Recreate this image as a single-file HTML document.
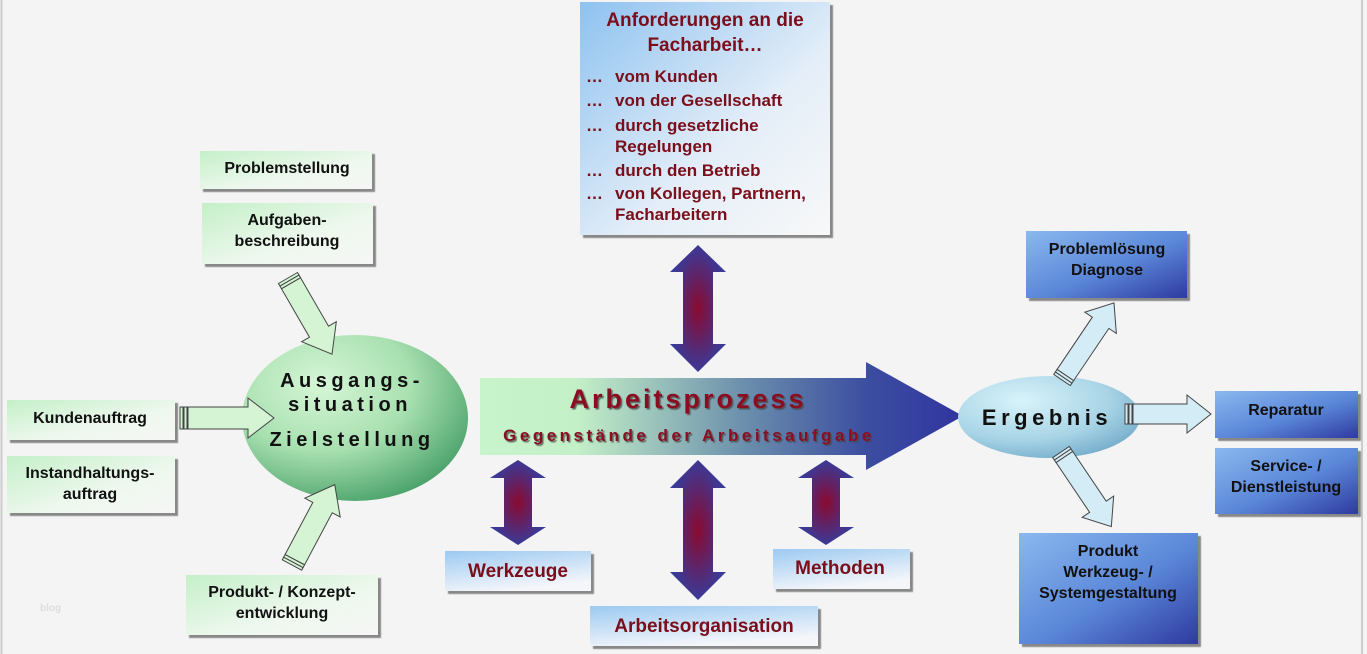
<!DOCTYPE html>
<html><head><meta charset="utf-8"><style>
html,body{margin:0;padding:0;background:#f4f4f4}
svg{display:block}
text{font-family:"Liberation Sans",sans-serif;font-weight:bold}
</style></head><body>
<svg width="1367" height="654" viewBox="0 0 1367 654" xmlns="http://www.w3.org/2000/svg">
<defs>
<linearGradient id="gbox" x1="0" y1="0" x2="1" y2="1"><stop offset="0" stop-color="#c4f0c8"/><stop offset="0.6" stop-color="#eef8ee"/><stop offset="1" stop-color="#f6f6f6"/></linearGradient>
<linearGradient id="bbox" x1="0" y1="0" x2="1" y2="1"><stop offset="0" stop-color="#8ec2f0"/><stop offset="0.6" stop-color="#e4eef8"/><stop offset="1" stop-color="#f8f8f8"/></linearGradient>
<linearGradient id="bsmall" x1="0" y1="0" x2="0.4" y2="1"><stop offset="0" stop-color="#9ccaf2"/><stop offset="1" stop-color="#f4f6fa"/></linearGradient>
<linearGradient id="dbox" x1="0" y1="0" x2="1" y2="1"><stop offset="0" stop-color="#8ab8ee"/><stop offset="0.55" stop-color="#5a86d8"/><stop offset="1" stop-color="#2e3aa0"/></linearGradient>
<radialGradient id="gell" cx="0.35" cy="0.3" r="0.8"><stop offset="0" stop-color="#d6f6d6"/><stop offset="0.5" stop-color="#a8e0b0"/><stop offset="1" stop-color="#3f9a62"/></radialGradient>
<radialGradient id="bell" cx="0.35" cy="0.3" r="0.8"><stop offset="0" stop-color="#d8f4fa"/><stop offset="0.6" stop-color="#a8d4e6"/><stop offset="1" stop-color="#6fa8c8"/></radialGradient>
<linearGradient id="big" x1="0" y1="0" x2="1" y2="0"><stop offset="0" stop-color="#c8f4cc"/><stop offset="0.2" stop-color="#c4f0c8"/><stop offset="0.55" stop-color="#6a8eac"/><stop offset="0.8" stop-color="#3c4ea0"/><stop offset="1" stop-color="#3034a0"/></linearGradient>
<radialGradient id="dbl" cx="0.5" cy="0.5" r="0.5"><stop offset="0" stop-color="#8a0a30"/><stop offset="1" stop-color="#3a3a98"/></radialGradient>
<filter id="sh" x="-5%" y="-5%" width="115%" height="115%"><feDropShadow dx="3" dy="3" stdDeviation="0.6" flood-color="#888" flood-opacity="1"/></filter>
<filter id="ts"><feDropShadow dx="1.5" dy="1.5" stdDeviation="0.5" flood-color="#444" flood-opacity="0.8"/></filter>
</defs>
<line x1="1.5" y1="0" x2="1.5" y2="654" stroke="#ccc" stroke-width="2"/>
<line x1="1362" y1="0" x2="1362" y2="654" stroke="#ccc" stroke-width="2"/>

<!-- top box -->
<rect x="580" y="2" width="250" height="233" fill="url(#bbox)" filter="url(#sh)"/>
<g fill="#7a0e1a" font-size="17">
<text x="705" y="26" text-anchor="middle" font-size="19">Anforderungen an die</text>
<text x="705" y="51" text-anchor="middle" font-size="19">Facharbeit…</text>
<text x="586" y="82">…</text><text x="615" y="82">vom Kunden</text>
<text x="586" y="106">…</text><text x="615" y="106">von der Gesellschaft</text>
<text x="586" y="131">…</text><text x="615" y="131">durch gesetzliche</text>
<text x="615" y="152">Regelungen</text>
<text x="586" y="176">…</text><text x="615" y="176">durch den Betrieb</text>
<text x="586" y="199">…</text><text x="615" y="199">von Kollegen, Partnern,</text>
<text x="615" y="220">Facharbeitern</text>
</g>

<!-- green boxes -->
<g filter="url(#sh)">
<rect x="200" y="151" width="172" height="38" fill="url(#gbox)"/>
<rect x="202" y="203" width="171" height="61" fill="url(#gbox)"/>
<rect x="7" y="400" width="168" height="40" fill="url(#gbox)"/>
<rect x="7" y="456" width="168" height="57" fill="url(#gbox)"/>
<rect x="186" y="575" width="192" height="60" fill="url(#gbox)"/>
</g>
<g fill="#111" font-size="16" text-anchor="middle">
<text x="287" y="173">Problemstellung</text>
<text x="287" y="225">Aufgaben-</text>
<text x="287" y="246">beschreibung</text>
<text x="90" y="423">Kundenauftrag</text>
<text x="90" y="478">Instandhaltungs-</text>
<text x="90" y="499">auftrag</text>
<text x="282" y="597">Produkt- / Konzept-</text>
<text x="282" y="618">entwicklung</text>
</g>

<!-- green ellipse -->
<ellipse cx="355" cy="418" rx="113" ry="83" fill="url(#gell)"/>
<g fill="#111" font-size="20" text-anchor="middle" letter-spacing="4.5">
<text x="352" y="387">Ausgangs-</text>
<text x="350" y="411">situation</text>
<text x="352" y="446">Zielstellung</text>
</g>

<!-- green fat arrows -->
<g fill="#d4f4d4" stroke="#444" stroke-width="1">
<g transform="translate(288,278) rotate(60)"><polygon points="6,-11 62,-11 62,-20 88,0 62,20 62,11 6,11"/><rect x="0" y="-11" width="3" height="22"/><rect x="3" y="-11" width="3" height="22"/></g>
<g transform="translate(180,418)"><polygon points="8,-11 68,-11 68,-20 94,0 68,20 68,11 8,11"/><rect x="0" y="-11" width="3" height="22"/><rect x="4" y="-11" width="3" height="22"/></g>
<g transform="translate(292,565) rotate(-62)"><polygon points="6,-11 65,-11 65,-20 91,0 65,20 65,11 6,11"/><rect x="0" y="-11" width="3" height="22"/><rect x="3" y="-11" width="3" height="22"/></g>
</g>

<!-- big arrow -->
<polygon points="480,378 866,378 866,362 963,416 866,470 866,455 480,455" fill="url(#big)"/>
<text x="688" y="408" text-anchor="middle" font-size="27" fill="#8a1020" letter-spacing="3" filter="url(#ts)">Arbeitsprozess</text>
<text x="689" y="441" text-anchor="middle" font-size="17" fill="#8a1020" letter-spacing="3.5" filter="url(#ts)">Gegenstände der Arbeitsaufgabe</text>

<!-- double arrows -->
<g fill="url(#dbl)">
<polygon points="698,245 726,272 713,272 713,344 726,344 698,372 670,344 683,344 683,272 670,272"/>
<polygon points="518,460 546,478 532,478 532,527 546,527 518,545 490,527 504,527 504,478 490,478"/>
<polygon points="698,460 726,488 713,488 713,572 726,572 698,600 670,572 683,572 683,488 670,488"/>
<polygon points="826,460 854,478 840,478 840,527 854,527 826,545 798,527 812,527 812,478 798,478"/>
</g>

<!-- blue small boxes -->
<g filter="url(#sh)">
<rect x="445" y="551" width="146" height="40" fill="url(#bsmall)"/>
<rect x="773" y="549" width="137" height="40" fill="url(#bsmall)"/>
<rect x="590" y="606" width="228" height="40" fill="url(#bsmall)"/>
</g>
<g fill="#7a0e1a" font-size="19" text-anchor="middle">
<text x="518" y="577">Werkzeuge</text>
<text x="840" y="574">Methoden</text>
<text x="704" y="632">Arbeitsorganisation</text>
</g>

<!-- ergebnis ellipse -->
<ellipse cx="1049" cy="417" rx="91" ry="41" fill="url(#bell)"/>
<text x="1047" y="425" text-anchor="middle" font-size="22" fill="#111" letter-spacing="4.5">Ergebnis</text>

<!-- light blue arrows -->
<g fill="#d4ecf6" stroke="#444" stroke-width="1">
<g transform="translate(1062,380) rotate(-56)"><polygon points="6,-10 69,-10 69,-19 93,0 69,19 69,10 6,10"/><rect x="0" y="-10" width="3" height="20"/><rect x="3" y="-10" width="3" height="20"/></g>
<g transform="translate(1125,414)"><polygon points="8,-10 62,-10 62,-19 86,0 62,19 62,10 8,10"/><rect x="0" y="-10" width="3" height="20"/><rect x="4" y="-10" width="3" height="20"/></g>
<g transform="translate(1061,452) rotate(56)"><polygon points="6,-10 66,-10 66,-19 90,0 66,19 66,10 6,10"/><rect x="0" y="-10" width="3" height="20"/><rect x="3" y="-10" width="3" height="20"/></g>
</g>

<!-- dark blue boxes -->
<g filter="url(#sh)">
<rect x="1026" y="231" width="161" height="67" fill="url(#dbox)"/>
<rect x="1215" y="391" width="143" height="47" fill="url(#dbox)"/>
<rect x="1215" y="448" width="143" height="66" fill="url(#dbox)"/>
<rect x="1019" y="533" width="179" height="111" fill="url(#dbox)"/>
</g>
<g fill="#111" font-size="16" text-anchor="middle">
<text x="1107" y="254">Problemlösung</text>
<text x="1107" y="275">Diagnose</text>
<text x="1286" y="415">Reparatur</text>
<text x="1286" y="471">Service- /</text>
<text x="1286" y="492">Dienstleistung</text>
<text x="1108" y="556">Produkt</text>
<text x="1108" y="577">Werkzeug- /</text>
<text x="1108" y="598">Systemgestaltung</text>
</g>
<text x="40" y="611" font-size="10" fill="#ddd" font-weight="normal">blog</text>
</svg>
</body></html>
